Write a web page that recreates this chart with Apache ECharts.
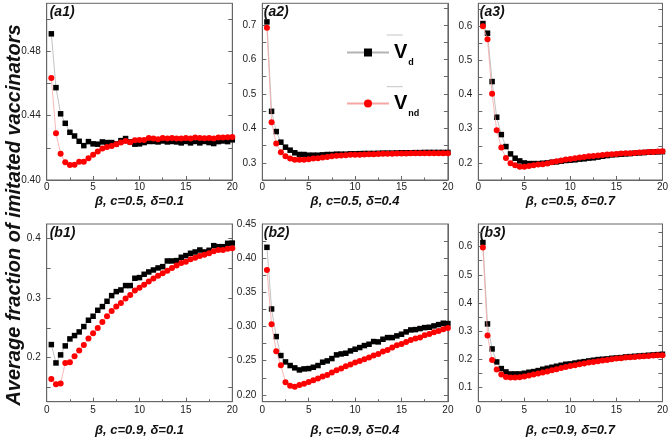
<!DOCTYPE html>
<html><head><meta charset="utf-8">
<script src="https://cdn.jsdelivr.net/npm/echarts@6/dist/echarts.min.js"></script>
<style>html,body{margin:0;padding:0;background:#fff}#c{width:671px;height:445px}</style>
</head><body><div id="c"></div>
<script>
// ---------- data ----------
const beta = [0.5,1,1.5,2,2.5,3,3.5,4,4.5,5,5.5,6,6.5,7,7.5,8,8.5,9,9.5,10,10.5,11,11.5,12,12.5,13,13.5,14,14.5,15,15.5,16,16.5,17,17.5,18,18.5,19,19.5,20];

const a1_Vd  = [0.491,0.4575,0.4412,0.4353,0.4297,0.4274,0.4241,0.4214,0.4239,0.4225,0.4223,0.4237,0.4233,0.4233,0.4225,0.4245,0.4258,0.4237,0.4223,0.4225,0.4233,0.424,0.424,0.4237,0.4243,0.4237,0.424,0.4237,0.4231,0.424,0.4231,0.424,0.4231,0.424,0.4233,0.4227,0.4239,0.4243,0.4239,0.425];
const a1_Vnd = [0.4635,0.4291,0.4163,0.4111,0.4093,0.4095,0.4113,0.4113,0.4136,0.4157,0.4177,0.4196,0.4206,0.4212,0.4223,0.4233,0.4243,0.4235,0.4247,0.4249,0.4249,0.4262,0.4258,0.4254,0.4262,0.4258,0.4262,0.4258,0.4258,0.4262,0.4258,0.4264,0.4262,0.426,0.4262,0.4258,0.4264,0.4264,0.4266,0.4268];

const a2_Vd  = [0.709,0.4494,0.3906,0.3598,0.3453,0.3366,0.329,0.3241,0.324,0.322,0.322,0.322,0.323,0.324,0.324,0.325,0.325,0.325,0.326,0.326,0.3265,0.327,0.327,0.327,0.3275,0.328,0.328,0.328,0.3285,0.329,0.329,0.329,0.3295,0.3295,0.33,0.33,0.33,0.33,0.33,0.33];
const a2_Vnd = [0.6923,0.4176,0.3559,0.3308,0.3193,0.3125,0.3087,0.3087,0.3087,0.3106,0.3125,0.3135,0.3154,0.317,0.3193,0.3203,0.321,0.322,0.323,0.323,0.3235,0.324,0.3245,0.325,0.3255,0.326,0.3262,0.3265,0.327,0.327,0.3272,0.3275,0.3278,0.328,0.328,0.328,0.328,0.328,0.328,0.328];

const a3_Vd  = [0.6078,0.5795,0.438,0.3337,0.2829,0.2478,0.2263,0.2137,0.2059,0.2,0.198,0.198,0.198,0.199,0.2,0.202,0.203,0.205,0.207,0.208,0.209,0.211,0.212,0.214,0.215,0.217,0.2195,0.2215,0.2234,0.2244,0.2254,0.2263,0.2273,0.2283,0.2293,0.2302,0.2312,0.2322,0.2322,0.233];
const a3_Vnd = [0.6,0.562,0.402,0.2956,0.2449,0.2146,0.199,0.193,0.189,0.189,0.191,0.193,0.195,0.196,0.198,0.202,0.205,0.207,0.21,0.2117,0.2137,0.2156,0.2176,0.2195,0.2205,0.2215,0.2234,0.2244,0.2254,0.2263,0.2273,0.2283,0.2283,0.2293,0.2302,0.2312,0.2322,0.2322,0.2332,0.234];

const b1_Vd  = [0.2218,0.191,0.2045,0.2196,0.2313,0.2369,0.243,0.252,0.2626,0.2693,0.2793,0.2855,0.2944,0.3039,0.3106,0.3134,0.3207,0.3207,0.333,0.3341,0.3397,0.3436,0.3469,0.3503,0.3525,0.362,0.362,0.3626,0.3682,0.371,0.3749,0.3771,0.3804,0.3771,0.3799,0.3877,0.386,0.386,0.3916,0.392];
const b1_Vnd = [0.1642,0.1553,0.1564,0.191,0.1922,0.2022,0.2117,0.2212,0.2318,0.2408,0.2497,0.2598,0.2693,0.2782,0.2855,0.2916,0.2989,0.305,0.3123,0.3173,0.3223,0.3274,0.3324,0.3374,0.3413,0.3458,0.3503,0.3542,0.3587,0.3609,0.3648,0.3676,0.3704,0.3726,0.3749,0.3782,0.3804,0.3804,0.3827,0.3832];

const b2_Vd  = [0.4159,0.3257,0.2853,0.2575,0.2482,0.2429,0.2395,0.2365,0.238,0.2385,0.2404,0.2429,0.2478,0.2497,0.2531,0.2585,0.2599,0.2609,0.2643,0.2668,0.2692,0.2721,0.2741,0.278,0.2775,0.2814,0.2838,0.2838,0.2863,0.2887,0.2921,0.295,0.2955,0.297,0.2984,0.2989,0.3009,0.3028,0.3048,0.3043];
const b2_Vnd = [0.3827,0.3033,0.2638,0.2434,0.2185,0.2132,0.2117,0.2146,0.2161,0.219,0.2214,0.2239,0.2268,0.2292,0.2327,0.2361,0.2385,0.2419,0.2443,0.2473,0.2497,0.2521,0.2546,0.2575,0.2599,0.2634,0.2658,0.2692,0.2726,0.2746,0.2775,0.2804,0.2824,0.2838,0.2872,0.2892,0.2916,0.2936,0.296,0.298];

const b3_Vd  = [0.6142,0.3258,0.2371,0.191,0.1674,0.1556,0.1485,0.1485,0.1485,0.1508,0.1544,0.1567,0.1603,0.165,0.1686,0.1721,0.1757,0.1792,0.1827,0.1839,0.187,0.1898,0.192,0.1946,0.197,0.1993,0.2005,0.2017,0.204,0.2052,0.2064,0.2087,0.2099,0.2111,0.2123,0.2135,0.2147,0.2158,0.217,0.2182];
const b3_Vnd = [0.5965,0.2844,0.1981,0.1638,0.1461,0.1378,0.1355,0.1355,0.1366,0.139,0.1426,0.1461,0.1496,0.1532,0.1567,0.1615,0.165,0.1697,0.1733,0.1768,0.1792,0.1827,0.185,0.1887,0.191,0.1934,0.1957,0.1981,0.2005,0.2028,0.204,0.2064,0.2076,0.2087,0.2099,0.2111,0.2123,0.2135,0.2147,0.2147];

// tick labels
const xTickLabels = [0,5,10,15,20];
const a1_yLabels = [0.40,0.44,0.48];           const a1_yTicks = [0.42,0.44,0.46,0.48,0.50];
const a2_yLabels = [0.3,0.4,0.5,0.6,0.7];       const a2_yTicks = [0.3,0.35,0.4,0.45,0.5,0.55,0.6,0.65,0.7,0.75];
const a3_yLabels = [0.2,0.3,0.4,0.5,0.6];       const a3_yTicks = [0.2,0.25,0.3,0.35,0.4,0.45,0.5,0.55,0.6,0.65];
const b1_yLabels = [0.2,0.3,0.4];               const b1_yTicks = [0.15,0.2,0.25,0.3,0.35,0.4];
const b2_yLabels = [0.20,0.25,0.30,0.35,0.40,0.45]; const b2_yTicks = [0.2,0.225,0.25,0.275,0.3,0.325,0.35,0.375,0.4,0.425];
const b3_yLabels = [0.1,0.2,0.3,0.4,0.5,0.6];   const b3_yTicks = [0.1,0.15,0.2,0.25,0.3,0.35,0.4,0.45,0.5,0.55,0.6,0.65];

const panelNames = ['(a1)','(a2)','(a3)','(b1)','(b2)','(b3)'];
const xTitles = ['β, c=0.5, δ=0.1','β, c=0.5, δ=0.4','β, c=0.5, δ=0.7','β, c=0.9, δ=0.1','β, c=0.9, δ=0.4','β, c=0.9, δ=0.7'];
const yTitle = 'Average fraction of imitated vaccinators';
const seriesNames = ['Vd','Vnd'];

// ---------- build ----------
const panels = [
  {vd:a1_Vd, vnd:a1_Vnd, labels:a1_yLabels, ticks:a1_yTicks, min:0.40, max:0.51, dec:2},
  {vd:a2_Vd, vnd:a2_Vnd, labels:a2_yLabels, ticks:a2_yTicks, min:0.25, max:0.763, dec:1},
  {vd:a3_Vd, vnd:a3_Vnd, labels:a3_yLabels, ticks:a3_yTicks, min:0.15, max:0.667, dec:1},
  {vd:b1_Vd, vnd:b1_Vnd, labels:b1_yLabels, ticks:b1_yTicks, min:0.126, max:0.424, dec:1},
  {vd:b2_Vd, vnd:b2_Vnd, labels:b2_yLabels, ticks:b2_yTicks, min:0.19, max:0.45, dec:2},
  {vd:b3_Vd, vnd:b3_Vnd, labels:b3_yLabels, ticks:b3_yTicks, min:0.05, max:0.68, dec:1}
];
const colLeft = [46.7, 262.3, 478.3];
const rowTop = [3.3, 224];
const rowH = [176.7, 177.7];
const W = 185.6;
const FONT = 'Liberation Sans, Arial, sans-serif';
const AX = '#666';

const grid = [], xAxis = [], yAxis = [], series = [], graphic = [];
panels.forEach((p, i) => {
  const r = Math.floor(i / 3), c = i % 3;
  grid.push({left: colLeft[c], top: rowTop[r], width: W, height: rowH[r],
    show: true, borderColor: AX, borderWidth: 1, backgroundColor: 'transparent'});
  xAxis.push({
    type: 'value', gridIndex: i, min: 0, max: 20, interval: 5,
    axisLine: {lineStyle: {color: AX}},
    axisTick: {inside: true, length: 4, lineStyle: {color: AX}},
    minorTick: {show: true, splitNumber: 2, length: 2.5, lineStyle: {color: AX}},
    splitLine: {show: false},
    axisLabel: {fontSize: 10, color: '#222', fontFamily: FONT, margin: r === 0 ? 2 : 4,
      customValues: xTickLabels},
    name: xTitles[i], nameLocation: 'middle', nameGap: r === 0 ? 15 : 22,
    nameTextStyle: {fontSize: 13, fontWeight: 'bold', fontStyle: 'italic', color: '#111', fontFamily: FONT}
  });
  const yCommon = {
    type: 'value', gridIndex: i, min: p.min, max: p.max,
    axisLine: {show: true, lineStyle: {color: AX}},
    splitLine: {show: false}
  };
  yAxis.push(Object.assign({}, yCommon, {
    position: 'left',
    axisTick: {inside: true, length: 4, lineStyle: {color: AX}, customValues: p.ticks},
    axisLabel: {fontSize: 10, color: '#222', fontFamily: FONT, margin: 6,
      customValues: p.labels, formatter: v => v.toFixed(p.dec)}
  }));
  yAxis.push(Object.assign({}, yCommon, {
    position: 'right',
    axisTick: {inside: true, length: 4, lineStyle: {color: AX}, customValues: p.ticks},
    axisLabel: {show: false}
  }));
  series.push({
    name: seriesNames[0], type: 'line', xAxisIndex: i, yAxisIndex: 2 * i,
    data: beta.map((b, k) => [b, p.vd[k]]),
    symbol: 'rect', symbolSize: 5.5, itemStyle: {color: '#000'},
    lineStyle: {color: '#b4b4b4', width: 0.8}, animation: false, z: 2
  });
  series.push({
    name: seriesNames[1], type: 'line', xAxisIndex: i, yAxisIndex: 2 * i,
    data: beta.map((b, k) => [b, p.vnd[k]]),
    symbol: 'circle', symbolSize: 6, itemStyle: {color: '#ff0000'},
    lineStyle: {color: '#f7a5a5', width: 0.8}, animation: false, z: 3
  });
  graphic.push({type: 'text', x: colLeft[c] + (c === 0 ? 3 : 1.5), y: rowTop[r] + 2,
    style: {text: panelNames[i], fontSize: 14, fontWeight: 'bold', fontStyle: 'italic',
      fontFamily: FONT, fill: '#111', align: 'left', verticalAlign: 'top'}});
});

graphic.push({type: 'text', x: 14, y: 215, rotation: Math.PI / 2,
  style: {text: yTitle, fontSize: 20, fontWeight: 'bold', fontStyle: 'italic',
    fontFamily: FONT, fill: '#111', align: 'center', verticalAlign: 'middle'}});
// legend overline artifacts
graphic.push({type: 'line', shape: {x1: 386.7, y1: 35, x2: 402.7, y2: 35}, style: {stroke: '#c4c4c4', lineWidth: 1}});
graphic.push({type: 'line', shape: {x1: 386.7, y1: 86.7, x2: 402.7, y2: 86.7}, style: {stroke: '#c4c4c4', lineWidth: 1}});

const option = {
  animation: false,
  backgroundColor: '#fff',
  grid, xAxis, yAxis, series, graphic,
  legend: {
    data: seriesNames, orient: 'vertical', left: 341, top: 33,
    itemWidth: 42, itemHeight: 10, itemGap: 22, selectedMode: false,
    formatter: n => n === 'Vd' ? '{v|V}{s|d}' : '{v|V}{s|nd}',
    textStyle: {
      fontFamily: FONT,
      rich: {
        v: {fontSize: 20, fontWeight: 'bold', fontFamily: FONT, color: '#000', lineHeight: 22},
        s: {fontSize: 9, fontWeight: 'bold', fontFamily: FONT, color: '#000', padding: [20, 0, 0, 1], lineHeight: 10}
      }
    }
  }
};
const chart = echarts.init(document.getElementById('c'), null, {renderer: 'canvas'});
chart.setOption(option);
</script>
</body></html>
